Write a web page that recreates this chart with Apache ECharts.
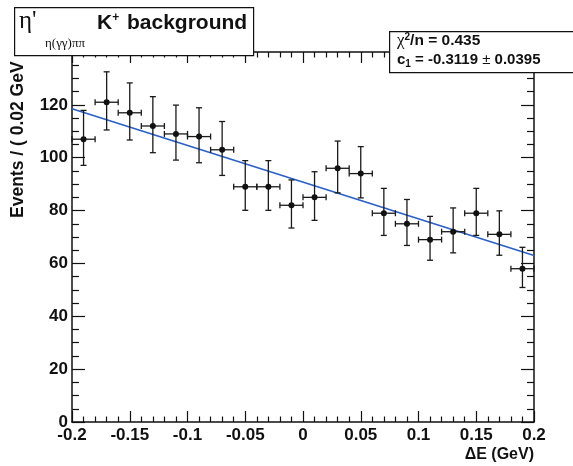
<!DOCTYPE html>
<html>
<head>
<meta charset="utf-8">
<script src="https://cdn.jsdelivr.net/npm/echarts@6/dist/echarts.min.js"></script>
<style>
html,body{margin:0;padding:0;background:#fff;}
#chart{width:573px;height:466px;}
</style>
</head>
<body>
<div id="chart"></div>
<script>
// Bin centers (Delta E, GeV)
var binCenters = [-0.19,-0.17,-0.15,-0.13,-0.11,-0.09,-0.07,-0.05,-0.03,-0.01,0.01,0.03,0.05,0.07,0.09,0.11,0.13,0.15,0.17,0.19];
// Events per bin
var events = [107,121,117,112,109,108,103,89,89,82,85,96,94,79,75,69,72,79,71,58];
// Lower / upper error (Poisson, asymmetric)
var errLow  = [9.9,10.5,10.3,10.1,9.9,9.9,9.7,8.9,8.9,8.6,8.7,9.3,9.2,8.4,8.2,7.8,8.0,8.4,7.9,7.1];
var errHigh = [10.9,11.5,11.3,11.1,10.9,10.9,10.7,9.9,9.9,9.6,9.7,10.3,10.2,9.4,9.2,8.8,9.0,9.4,8.9,8.1];
var binHalfWidth = 0.01;
// Linear fit line end points
var fitX = [-0.2, 0.2];
var fitY = [118.5, 63.0];
// Axis tick labels
var xTickLabels = ['-0.2','-0.15','-0.1','-0.05','0','0.05','0.1','0.15','0.2'];
var yTickLabels = ['0','20','40','60','80','100','120'];

var chart = echarts.init(document.getElementById('chart'), null, {renderer:'canvas'});

var errData = binCenters.map(function(x,i){ return [x, events[i], errLow[i], errHigh[i]]; });
var fitData = fitX.map(function(x,i){ return [x, fitY[i]]; });

var lineCol = '#1a1a1a';
function renderErr(params, api){
  var x = api.value(0), y = api.value(1), lo = api.value(2), hi = api.value(3);
  var c = api.coord([x,y]);
  var top = api.coord([x,y+hi]);
  var bot = api.coord([x,y-lo]);
  var l = api.coord([x-binHalfWidth,y]);
  var r = api.coord([x+binHalfWidth,y]);
  var cap = 3;
  var st = {stroke: lineCol, lineWidth: 1.3};
  return {type:'group', children:[
    {type:'line', shape:{x1:c[0],y1:top[1],x2:c[0],y2:bot[1]}, style:st},
    {type:'line', shape:{x1:l[0],y1:c[1],x2:r[0],y2:c[1]}, style:st},
    {type:'line', shape:{x1:c[0]-cap,y1:top[1],x2:c[0]+cap,y2:top[1]}, style:st},
    {type:'line', shape:{x1:c[0]-cap,y1:bot[1],x2:c[0]+cap,y2:bot[1]}, style:st},
    {type:'line', shape:{x1:l[0],y1:c[1]-cap,x2:l[0],y2:c[1]+cap}, style:st},
    {type:'line', shape:{x1:r[0],y1:c[1]-cap,x2:r[0],y2:c[1]+cap}, style:st},
    {type:'circle', shape:{cx:c[0],cy:c[1],r:3}, style:{fill:'#111'}}
  ]};
}

var labelFont = {fontFamily:'Liberation Sans', fontWeight:'bold', fontSize:17, color:'#111'};
var axLine = {show:true, onZero:false, lineStyle:{color:'#111', width:1.5}};

var option = {
  animation:false,
  backgroundColor:'#fff',
  grid:{left:72, right:39, top:52, bottom:44, containLabel:false},
  xAxis:[
    {type:'value', min:-0.2, max:0.2, interval:0.05, position:'bottom',
     axisLine:axLine,
     axisTick:{show:true, inside:true, length:11, lineStyle:{color:'#111', width:1.2}},
     minorTick:{show:true, splitNumber:5, length:5.5, lineStyle:{color:'#111', width:1.2}},
     splitLine:{show:false},
     axisLabel:Object.assign({margin:5, formatter:function(v){
        var idx = Math.round((v+0.2)/0.05); return xTickLabels[idx]; }}, labelFont)},
    {type:'value', min:-0.2, max:0.2, interval:0.05, position:'top',
     axisLine:axLine,
     axisTick:{show:true, inside:true, length:11, lineStyle:{color:'#111', width:1.2}},
     minorTick:{show:true, splitNumber:5, length:5.5, lineStyle:{color:'#111', width:1.2}},
     splitLine:{show:false}, axisLabel:{show:false}}
  ],
  yAxis:[
    {type:'value', min:0, max:140, interval:20, position:'left',
     axisLine:axLine,
     axisTick:{show:true, inside:true, length:13, lineStyle:{color:'#111', width:1.2}},
     minorTick:{show:true, splitNumber:4, length:7, lineStyle:{color:'#111', width:1.2}},
     splitLine:{show:false},
     axisLabel:Object.assign({margin:4, showMaxLabel:false, formatter:function(v){
        var idx = Math.round(v/20); return yTickLabels[idx] || ''; }}, labelFont)},
    {type:'value', min:0, max:140, interval:20, position:'right',
     axisLine:axLine,
     axisTick:{show:true, inside:true, length:13, lineStyle:{color:'#111', width:1.2}},
     minorTick:{show:true, splitNumber:4, length:7, lineStyle:{color:'#111', width:1.2}},
     splitLine:{show:false}, axisLabel:{show:false}}
  ],
  series:[
    {type:'line', data:fitData, xAxisIndex:0, yAxisIndex:0, symbol:'none',
     lineStyle:{color:'#2a5fc4', width:1.6}, z:3},
    {type:'custom', data:errData, xAxisIndex:0, yAxisIndex:0, renderItem:renderErr, z:4,
     encode:{x:0, y:1}}
  ],
  graphic:[
    {type:'text', x:18, y:218, rotation:Math.PI/2, style:{text:'Events / ( 0.02 GeV', font:'bold 17.5px "Liberation Sans"', fill:'#111', textAlign:'left', textVerticalAlign:'middle'}, z:90},
    {type:'rect', left:14, top:7, shape:{width:239, height:48}, style:{fill:'#fff', stroke:'#111', lineWidth:1.2}, z:100},
    {type:'text', x:19, y:34, style:{text:"η'", font:'25px "Liberation Serif"', fill:'#111', textVerticalAlign:'bottom'}, z:101},
    {type:'text', x:45, y:44, style:{text:'η(γγ)ππ', font:'13px "Liberation Serif"', fill:'#111', textVerticalAlign:'middle'}, z:101},
    {type:'text', x:97, y:23, style:{rich:{b:{font:'bold 21px "Liberation Sans"', fill:'#111'}, s:{font:'bold 12px "Liberation Sans"', fill:'#111', verticalAlign:'top', padding:[0,2,10,0]}},
      text:'{b|K}{s|+}{b| background}', textVerticalAlign:'middle'}, z:101},
    {type:'rect', left:389, top:31, shape:{width:190, height:41}, style:{fill:'#fff', stroke:'#111', lineWidth:1.2}, z:100},
    {type:'text', x:397, y:41, style:{rich:{b:{font:'bold 15.5px "Liberation Sans"', fill:'#111'}, g:{font:'17px "Liberation Serif"', fill:'#111'}, s:{font:'bold 10px "Liberation Sans"', fill:'#111', padding:[0,0,8,0]}},
      text:'{g|χ}{s|2}{b|/n = 0.435}', textVerticalAlign:'middle'}, z:101},
    {type:'text', x:397, y:60, style:{rich:{b:{font:'bold 15px "Liberation Sans"', fill:'#111'}, p:{font:'15px "Liberation Sans"', fill:'#111'}, s:{font:'bold 10px "Liberation Sans"', fill:'#111', padding:[8,0,0,0]}},
      text:'{b|c}{s|1}{b| = -0.3119 }{p|±}{b| 0.0395}', textVerticalAlign:'middle'}, z:101},
    {type:'text', x:534, y:455, style:{text:'ΔE (GeV)', font:'bold 16px "Liberation Sans"', fill:'#111', textAlign:'right', textVerticalAlign:'middle'}, z:101}
  ]
};
chart.setOption(option);
</script>
</body>
</html>
